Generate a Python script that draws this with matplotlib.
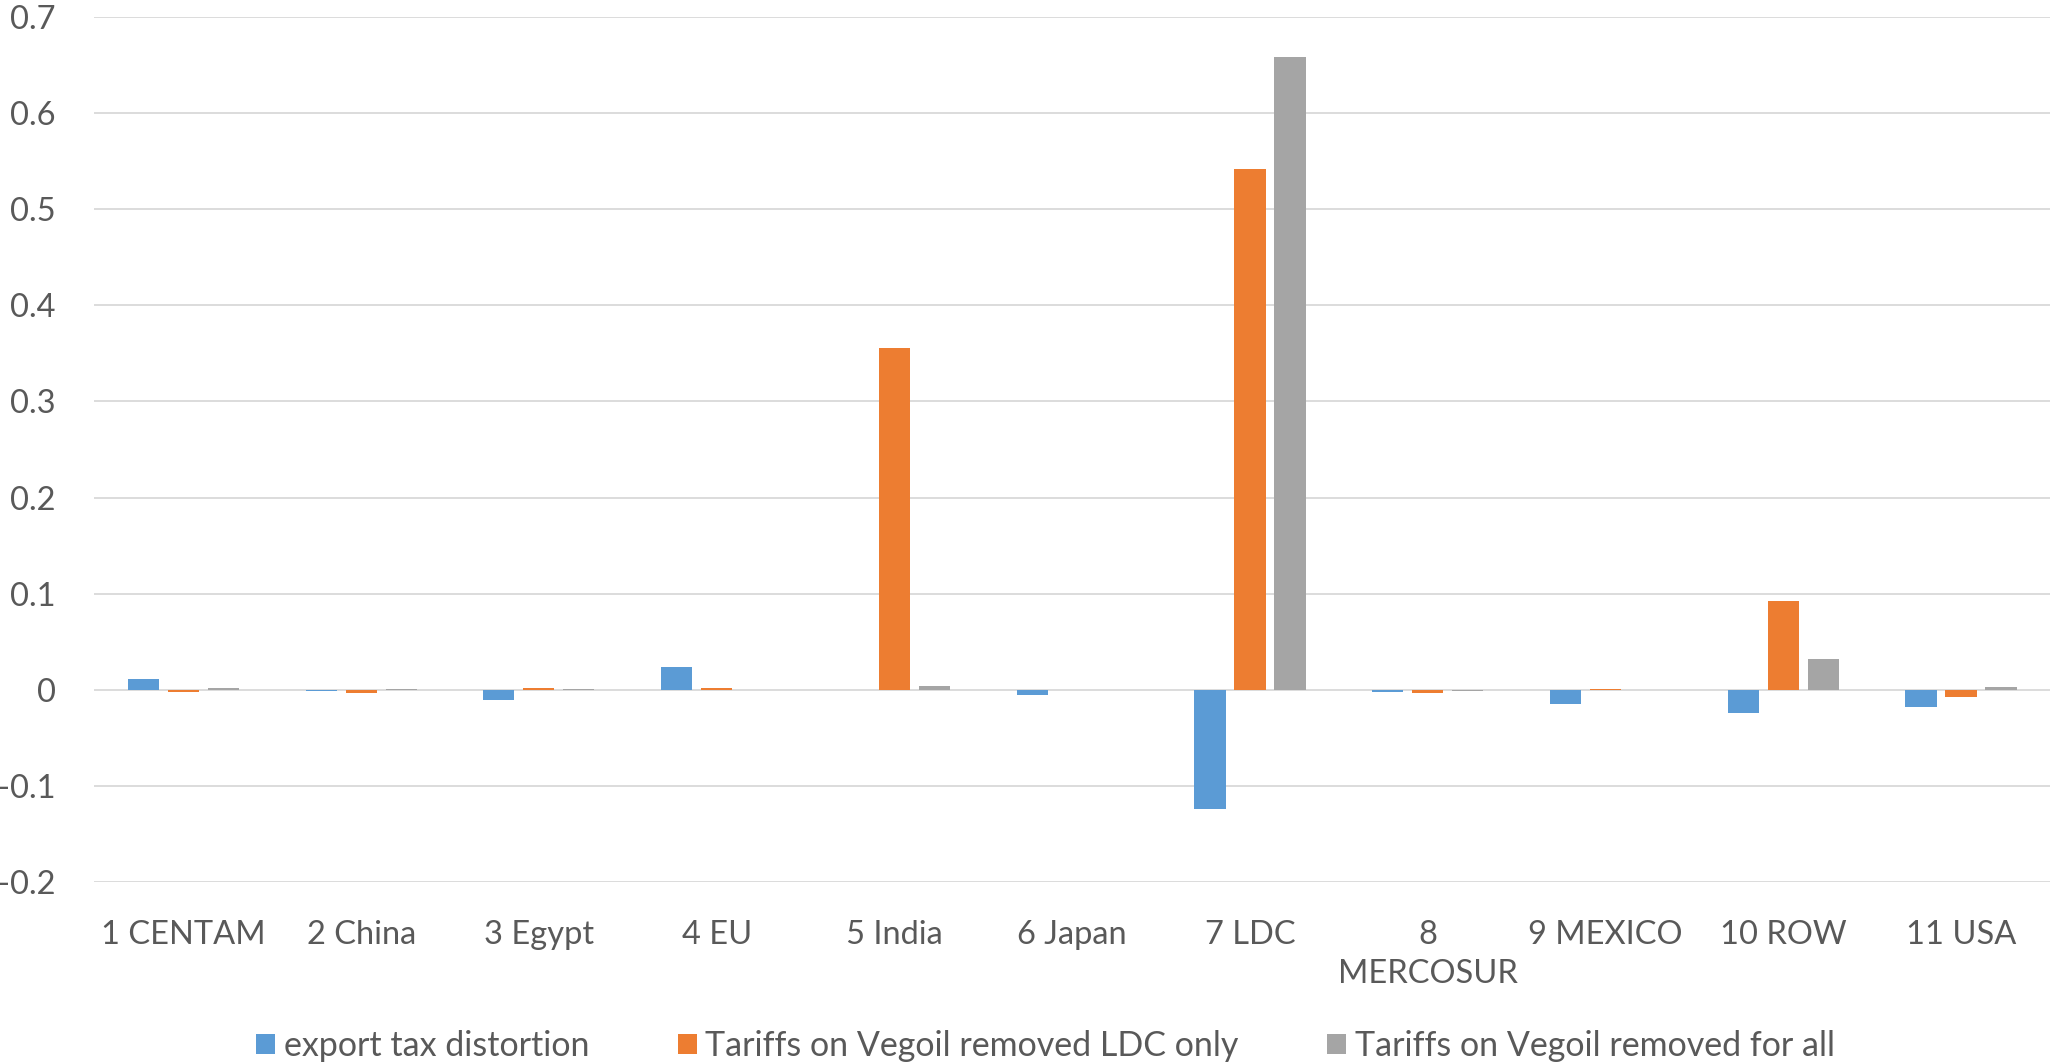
import numpy as np
import matplotlib.pyplot as plt

# region labels and the three scenario series
regions = ["1 CENTAM", "2 China", "3 Egypt", "4 EU", "5 India", "6 Japan",
           "7 LDC", "8\nMERCOSUR", "9 MEXICO", "10 ROW", "11 USA"]
export_tax = [0.0115, -0.001, -0.0105, 0.024, 0.0, -0.005,
              -0.1243, -0.002, -0.015, -0.024, -0.018]
ldc_only = [-0.0025, -0.0035, 0.002, 0.002, 0.3555, 0.0,
            0.542, -0.0035, 0.001, 0.0926, -0.007]
for_all = [0.002, 0.0005, 0.0008, 0.0, 0.004, 0.0,
           0.658, -0.001, 0.0, 0.032, 0.003]

series = [
    ("export tax distortion", export_tax, "#5B9BD5"),
    ("Tariffs on Vegoil removed LDC only", ldc_only, "#ED7D31"),
    ("Tariffs on Vegoil removed for all", for_all, "#A5A5A5"),
]

plt.rcParams['font.family'] = ['Lato', 'DejaVu Sans']

fig = plt.figure(figsize=(20.54, 10.64), dpi=100)
ax = fig.add_axes([0.046, 0.171, 0.952, 0.813])

x = np.arange(len(regions))
width = 0.175
step = 0.225
for i, (name, vals, col) in enumerate(series):
    ax.bar(x + (i - 1) * step, vals, width, color=col, label=name, zorder=3)

ax.set_xlim(-0.5, len(regions) - 0.5)
ax.set_ylim(-0.2, 0.7)
ax.set_yticks(np.arange(-0.2, 0.71, 0.1))
ax.set_yticklabels(["-0.2", "-0.1", "0", "0.1", "0.2", "0.3", "0.4", "0.5", "0.6", "0.7"])
ax.set_xticks(x)
ax.set_xticklabels(regions, va="top", linespacing=1.4)
ax.tick_params(axis="both", length=0, labelsize=23.5, colors="#595959")
ax.tick_params(axis="x", pad=27)
ax.tick_params(axis="y", pad=28)
ax.yaxis.grid(True, color="#D9D9D9", linewidth=1.3, zorder=0)
ax.set_axisbelow(True)
for s in ax.spines.values():
    s.set_visible(False)

fig.legend(loc="center", bbox_to_anchor=(0.509, 0.017), ncol=3, frameon=False,
           fontsize=24.5, labelcolor="#595959", handlelength=0.56, handleheight=0.56,
           handletextpad=0.25, columnspacing=2.6, borderaxespad=0, borderpad=0)

fig.savefig("out.png", dpi=100)
